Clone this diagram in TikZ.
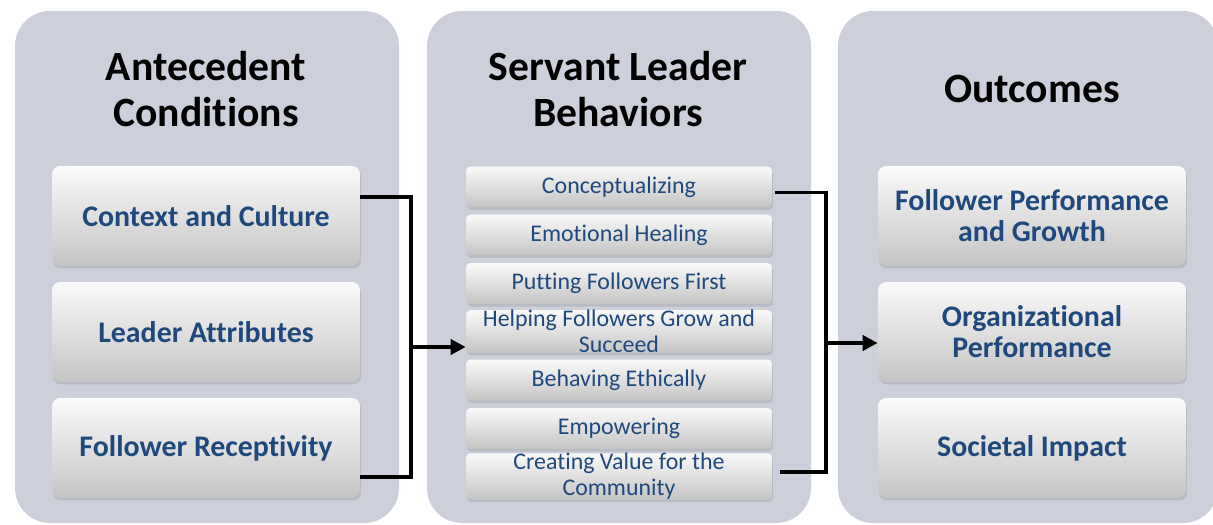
\documentclass[tikz,border=0pt]{standalone}
\usepackage{fontspec}
\setmainfont{Carlito}[Ligatures=CommonOff]
\usepackage{tikz}
\usetikzlibrary{arrows.meta, shadows}
\definecolor{panelgray}{RGB}{205,208,219}
\definecolor{labelblue}{RGB}{31,73,125}

\begin{document}
\begin{tikzpicture}[x=0.02cm, y=-0.02cm,
  panel/.style={fill=panelgray, rounded corners=0.7cm},
  title/.style={font=\bfseries\fontsize{23.7}{26}\selectfont, align=center},
  box/.style={top color=black!2, bottom color=black!23, text=labelblue, align=center,
    drop shadow={shadow xshift=0.02cm, shadow yshift=-0.05cm, opacity=0.25}},
  bigbox/.style={box, rounded corners=0.16cm, minimum width=6.16cm, minimum height=2cm,
    font=\bfseries\fontsize{17}{17.6}\selectfont},
  smallbox/.style={box, rounded corners=0.09cm, minimum width=6.12cm, minimum height=0.82cm,
    inner sep=0pt, font=\fontsize{13.6}{14.8}\selectfont},
  link/.style={line width=2.2pt},
  arr/.style={link, -{Triangle[length=0.3cm, width=0.3cm]}}]
\useasboundingbox (0,0) rectangle (1213,524);
% Panels
\fill[panel] (15,11) rectangle (399,523);
\fill[panel] (427,11) rectangle (811,523);
\fill[panel] (838,11) rectangle (1218,523);
% Titles
\node[title] (antTitle) at (206,89) {Antecedent\\Conditions};
\node[title] (behTitle) at (618,89) {Servant Leader\\Behaviors};
\node[title] (outTitle) at (1032,89) {Outcomes};
% Antecedent conditions
\node[bigbox] (ctx) at (206,216) {Context and Culture};
\node[bigbox] (attr) at (206,332) {Leader Attributes};
\node[bigbox] (recep) at (206,448) {Follower Receptivity};
% Servant leader behaviors
\foreach \n/\y/\txt in {1/187/Conceptualizing, 2/235/Emotional Healing,
    3/283.5/Putting Followers First, 4/331.5/{Helping Followers Grow and\\Succeed},
    5/380/Behaving Ethically, 6/428.5/Empowering, 7/476.5/{Creating Value for the\\Community}}
  \node[smallbox] (beh\n) at (619,\y) {\txt};
% Outcomes
\node[bigbox] (perf) at (1032,216) {Follower Performance\\and Growth};
\node[bigbox] (org) at (1032,332) {Organizational\\Performance};
\node[bigbox] (soc) at (1032,448) {Societal Impact};
% Brackets
\coordinate (ljoin) at (411,347);
\coordinate (rjoin) at (826,343);
\draw[link] ([yshift=0.38cm]ctx.east) -| (ljoin) |- ([yshift=-0.58cm]recep.east);
\draw[arr] (ljoin) -- (ljoin -| beh4.west);
\draw[link] ([xshift=0.06cm, yshift=-0.11cm]beh1.east) -| (rjoin) |- ([xshift=0.16cm, yshift=0.09cm]beh7.east);
\draw[arr] (rjoin) -- (rjoin -| org.west);
\end{tikzpicture}
\end{document}
